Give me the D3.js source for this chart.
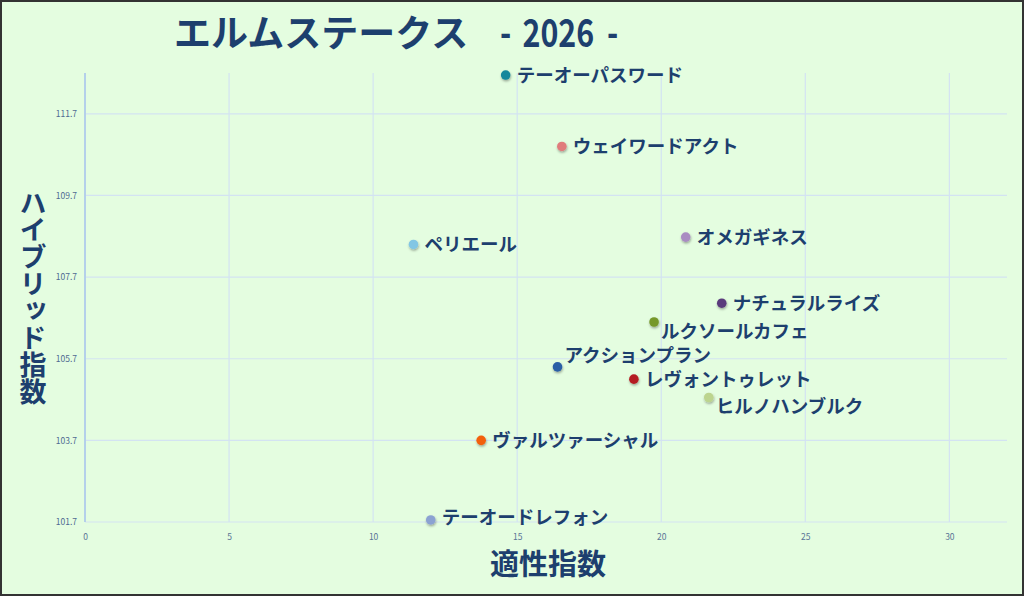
<!DOCTYPE html>
<html>
<head>
<meta charset="utf-8">
<script src="https://cdn.jsdelivr.net/npm/d3@7"></script>
<style>
  html, body { margin: 0; padding: 0; background: #e4fde0; }
  svg { display: block; }
</style>
</head>
<body>
<div id="vis"></div>
<script>
// horse names, x = 適性指数, y = ハイブリッド指数
const horses = ["テーオーパスワード", "ウェイワードアクト", "ペリエール", "オメガギネス",
  "ナチュラルライズ", "ルクソールカフェ", "アクションプラン", "レヴォントゥレット",
  "ヒルノハンブルク", "ヴァルツァーシャル", "テーオードレフォン"];
const aptitude = [14.6, 16.55, 11.4, 20.85, 22.1, 19.75, 16.4, 19.05, 21.65, 13.75, 12.0];
const hybrid = [112.65, 110.9, 108.5, 108.68, 107.06, 106.6, 105.5, 105.2, 104.75, 103.7, 101.75];
const dotColors = ["#16889c", "#e07c7c", "#82c6e4", "#a98cc2", "#5a3a7c", "#76982a",
  "#2a5ea6", "#b41e22", "#bcd48e", "#f2600e", "#8ba2d2"];
const xTicks = [0, 5, 10, 15, 20, 25, 30];
const yTicks = [101.7, 103.7, 105.7, 107.7, 109.7, 111.7];

// label placement relative to the dot (r = right, ur = upper right, lr = lower right)
const labelSide = {
  "ルクソールカフェ": "lr",
  "アクションプラン": "ur",
  "ヒルノハンブルク": "lr",
  "テーオードレフォン": "hr"
};

const width = 1024;
const height = 596;
const margin = {top: 73, right: 17, bottom: 74, left: 85};
const ink = "#1d3f6e";
const font = "'Noto Sans CJK JP', 'Noto Sans', sans-serif";

const svg = d3.select("#vis").append("svg")
  .attr("width", width)
  .attr("height", height);

svg.append("rect")
  .attr("x", 1).attr("y", 1)
  .attr("width", width - 2).attr("height", height - 2)
  .attr("fill", "#e4fde0")
  .attr("stroke", "#333")
  .attr("stroke-width", 2);

const defs = svg.append("defs");
const shadow = defs.append("filter").attr("id", "shadow")
  .attr("x", "-50%").attr("y", "-50%").attr("width", "200%").attr("height", "200%");
shadow.append("feDropShadow")
  .attr("dx", 0.5).attr("dy", 1.5).attr("stdDeviation", 1.2)
  .attr("flood-color", "#000").attr("flood-opacity", 0.35);

const x = d3.scaleLinear()
  .domain([0, 32])
  .range([margin.left, width - margin.right]);

const y = d3.scaleLinear()
  .domain([101.7, 112.7])
  .range([height - margin.bottom, margin.top]);

const grid = svg.append("g").attr("stroke", "#d3e3f2").attr("stroke-width", 1.2);

grid.selectAll(".vline")
  .data(xTicks.slice(1))
  .join("line")
  .attr("x1", d => x(d)).attr("x2", d => x(d))
  .attr("y1", y.range()[1]).attr("y2", y.range()[0]);

grid.selectAll(".hline")
  .data(yTicks)
  .join("line")
  .attr("x1", x.range()[0]).attr("x2", x.range()[1])
  .attr("y1", d => y(d)).attr("y2", d => y(d));

// y axis line
svg.append("line")
  .attr("x1", x(0)).attr("x2", x(0))
  .attr("y1", y.range()[1]).attr("y2", y.range()[0])
  .attr("stroke", "#b4d0ea")
  .attr("stroke-width", 2);

const xAxis = svg.append("g")
  .attr("transform", `translate(0,${y.range()[0]})`)
  .call(d3.axisBottom(x).tickValues(xTicks).tickSize(0).tickPadding(12));
xAxis.select(".domain").remove();
xAxis.selectAll("text")
  .attr("fill", "#5a7496")
  .attr("font-size", 8.5)
  .attr("font-family", font);

const yAxis = svg.append("g")
  .attr("transform", `translate(${x(0)},0)`)
  .call(d3.axisLeft(y).tickValues(yTicks).tickSize(0).tickPadding(8).tickFormat(d3.format(".1f")));
yAxis.select(".domain").remove();
yAxis.selectAll("text")
  .attr("fill", "#4f6a92")
  .attr("font-size", 8.5)
  .attr("font-family", font);

const data = horses.map((name, i) => ({
  name: name,
  x: aptitude[i],
  y: hybrid[i],
  color: dotColors[i]
}));

const dots = svg.append("g");

dots.selectAll("circle")
  .data(data)
  .join("circle")
  .attr("cx", d => x(d.x))
  .attr("cy", d => y(d.y))
  .attr("r", 4.8)
  .attr("fill", d => d.color)
  .attr("filter", "url(#shadow)");

dots.selectAll("text")
  .data(data)
  .join("text")
  .attr("x", d => {
    const side = labelSide[d.name] || "r";
    return x(d.x) + (side === "ur" || side === "lr" ? 7 : 11);
  })
  .attr("y", d => {
    const side = labelSide[d.name] || "r";
    if (side === "ur") return y(d.y) - 12;
    if (side === "lr") return y(d.y) + 9;
    if (side === "hr") return y(d.y) - 3;
    return y(d.y);
  })
  .attr("dy", "0.36em")
  .attr("fill", ink)
  .attr("font-family", font)
  .attr("font-weight", 700)
  .attr("font-size", 18.5)
  .text(d => d.name);

// title
svg.append("text")
  .attr("x", 174)
  .attr("y", 47)
  .attr("fill", ink)
  .attr("font-family", font)
  .attr("font-weight", 700)
  .attr("font-size", 37)
  .text("エルムステークス");

const year = svg.append("text")
  .attr("transform", "translate(500,47) scale(0.8,1.03)")
  .attr("fill", ink)
  .attr("font-family", font)
  .attr("font-weight", 700)
  .attr("font-size", 38);
year.append("tspan").text("-");
year.append("tspan").attr("dx", 14).text("2026");
year.append("tspan").attr("dx", 16).text("-");

// axis titles
svg.append("text")
  .attr("x", 548)
  .attr("y", 575)
  .attr("text-anchor", "middle")
  .attr("fill", ink)
  .attr("font-family", font)
  .attr("font-weight", 700)
  .attr("font-size", 29)
  .text("適性指数");

svg.append("text")
  .attr("x", 33)
  .attr("y", 297)
  .attr("text-anchor", "middle")
  .attr("fill", ink)
  .attr("font-family", font)
  .attr("font-weight", 700)
  .attr("font-size", 27)
  .style("writing-mode", "vertical-rl")
  .text("ハイブリッド指数");
</script>
</body>
</html>
